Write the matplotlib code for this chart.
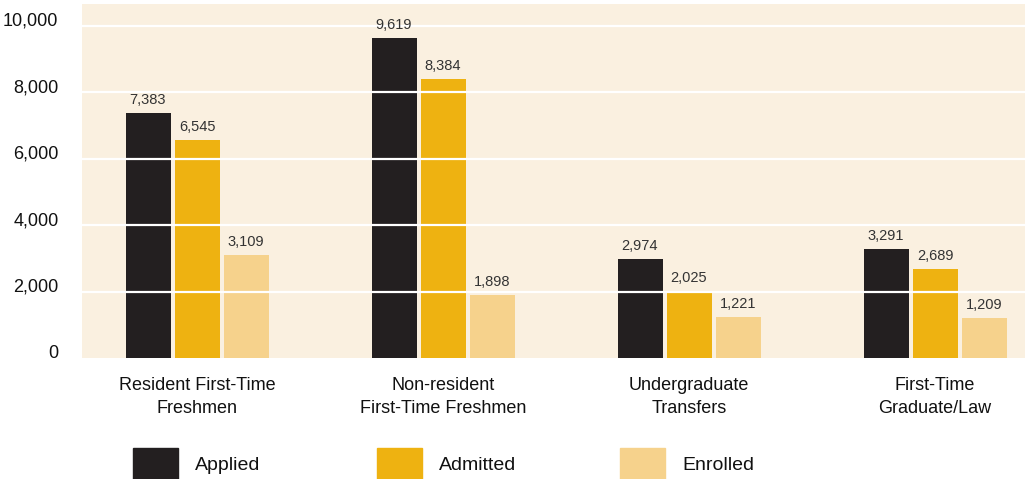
import numpy as np
import matplotlib
matplotlib.use("Agg")
import matplotlib.pyplot as plt
from matplotlib.patches import Rectangle

plt.rcParams['font.family'] = ['Liberation Sans', 'DejaVu Sans']

# ----- data -----
categories = ["Resident First-Time\nFreshmen",
              "Non-resident\nFirst-Time Freshmen",
              "Undergraduate\nTransfers",
              "First-Time\nGraduate/Law"]
series_names = ["Applied", "Admitted", "Enrolled"]
applied = [7383, 9619, 2974, 3291]
admitted = [6545, 8384, 2025, 2689]
enrolled = [3109, 1898, 1221, 1209]
y_ticks = [0, 2000, 4000, 6000, 8000, 10000]

colors = ["#231f20", "#eeb211", "#f6d28c"]
bg = "#faf0e0"

fig = plt.figure(figsize=(10.25, 4.79), dpi=100)
ax = fig.add_axes([82 / 1025, 121 / 479, 943 / 1025, 354 / 479])
ax.set_facecolor(bg)

x = np.arange(len(categories))
width = 45 / 246
step = 49 / 246

for i, (vals, col) in enumerate(zip([applied, admitted, enrolled], colors)):
    pos = x + (i - 1) * step
    ax.bar(pos, vals, width=width, color=col, zorder=2)
    for px, v in zip(pos, vals):
        ax.text(px, v + 180, f"{v:,}", ha='center', va='bottom',
                fontsize=10.5, color="#333333", zorder=4)

# white gridlines over the bars
for t in y_ticks[1:]:
    ax.axhline(t, color='white', lw=1.6, zorder=3)

ax.set_xlim((82 - 197) / 246, (1025 - 197) / 246)
ax.set_ylim(0, 10647)
ax.set_yticks(y_ticks)
ax.set_yticklabels([f"{t:,}" for t in y_ticks], fontsize=13, color="#111111")
for lab in ax.get_yticklabels():
    lab.set_va('baseline')
ax.set_xticks(x)
ax.set_xticklabels(categories, fontsize=13, color="#111111", linespacing=1.4)
ax.tick_params(axis='both', length=0)
ax.tick_params(axis='y', pad=17)
ax.tick_params(axis='x', pad=14)
for s in ax.spines.values():
    s.set_visible(False)

# legend drawn by hand
W, H = 1025, 479
for i, name in enumerate(series_names):
    x0 = 133 + i * 243.5
    fig.add_artist(Rectangle((x0 / W, 0), 45 / W, 31 / H,
                             transform=fig.transFigure, color=colors[i]))
    fig.text((x0 + 62) / W, 1 - 465 / H, name, fontsize=14,
             va='center', ha='left', color="#111111")

fig.savefig("out.png", dpi=100)
